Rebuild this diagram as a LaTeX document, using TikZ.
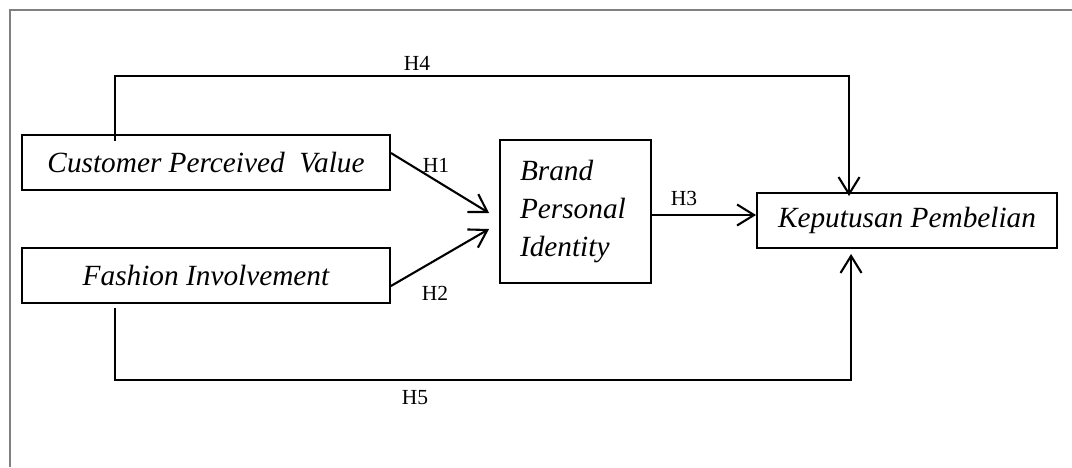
\documentclass[tikz,border=0pt]{standalone}
\usepackage{fontspec}
\setmainfont{Liberation Serif}
\usetikzlibrary{arrows.meta,calc}
\begin{document}
\begin{tikzpicture}[x=1pt,y=-1pt,
  box/.style={draw,line width=1.9pt,inner sep=0pt,anchor=center,
    font=\fontsize{29.3}{38}\selectfont\itshape},
  conn/.style={line width=2.1pt},
  arr/.style={conn,-{Straight Barb[length=17pt,width=21pt,line width=2.1pt]}},
  hlab/.style={inner sep=0pt,anchor=center,font=\fontsize{21.5}{26}\selectfont}]
\useasboundingbox (0,0) rectangle (1072,467);
\draw[line width=2pt,color=black!50] (10,467) -- (10,10) -- (1072,10);

\node[box,minimum width=368pt,minimum height=55pt] (cpv) at (206,162.5) {Customer Perceived\ \ Value};
\node[box,minimum width=368pt,minimum height=55pt] (fi) at (206,275.5) {Fashion Involvement};
\node[box,minimum width=151pt,minimum height=143pt,inner xsep=20pt,text width=111pt,align=left] (bpi) at (575.5,211.5) {Brand\\Personal\\Identity};
\node[box,minimum width=300pt,minimum height=55pt] (kp) at (907,220.5) {Keputusan Pembelian};

\draw[arr] ($(cpv.east)+(0,-9.5)$) -- ($(bpi.west)+(-10,1.5)$);
\draw[arr] ($(fi.east)+(0,10.5)$) -- ($(bpi.west)+(-10,17.5)$);
\draw[arr] ($(bpi.east)+(0,3.5)$) -- ($(kp.west)+(0,-5.5)$);
\draw[arr] ($(cpv.north west)+(94,7)$) -- ++(0,-65) -| ($(kp.north west)+(93,4)$);
\draw[arr] ($(fi.south west)+(94,4)$) -- ++(0,72) -| ($(kp.south west)+(95,5)$);

\node[hlab] (h4) at (417,63) {H4};
\node[hlab] (h1) at (436,165) {H1};
\node[hlab] (h2) at (435,293) {H2};
\node[hlab] (h3) at (684,198) {H3};
\node[hlab] (h5) at (415,398) {H5};
\end{tikzpicture}
\end{document}
